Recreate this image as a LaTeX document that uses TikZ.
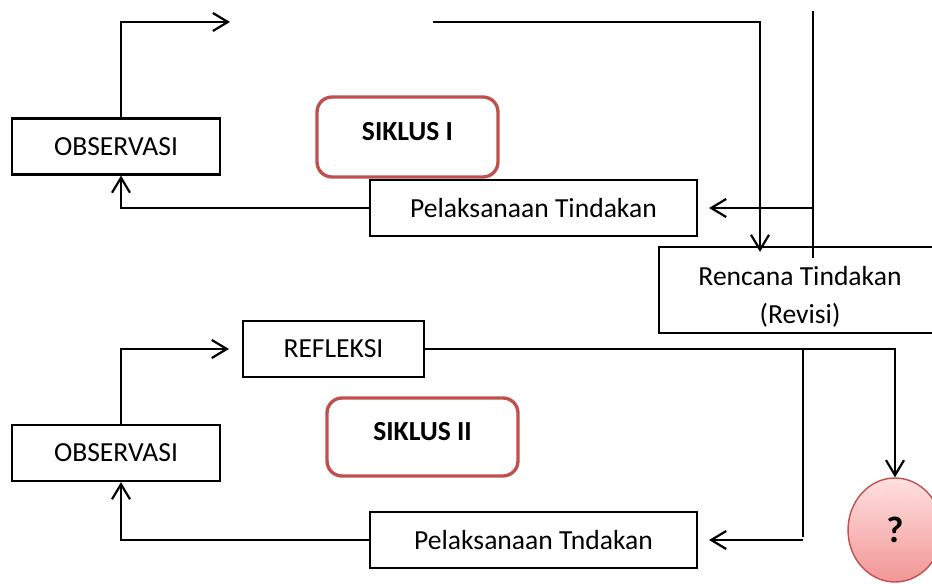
\documentclass[tikz,border=0pt]{standalone}
\usepackage{fontspec}
\setmainfont{Carlito}
\usetikzlibrary{arrows.meta,positioning,shapes.geometric}

\definecolor{merah}{RGB}{192,80,77}
\definecolor{pinkatas}{RGB}{255,224,224}
\definecolor{pinkbawah}{RGB}{242,150,150}

\begin{document}
\begin{tikzpicture}[x=0.02cm, y=-0.02cm, >={Straight Barb[length=0.3cm,width=0.36cm]}, line width=1.25pt]
        % Gaya
        \tikzstyle{kotak} = [draw, rectangle, line width=1.25pt, minimum height=1.12cm, inner sep=0pt, align=center, font=\fontsize{15.7}{22}\selectfont]
        \tikzstyle{siklus} = [draw=merah, rectangle, rounded corners=0.3cm, line width=1.9pt, text depth=0.22cm, font=\fontsize{15.7}{22}\selectfont\bfseries]
        \tikzstyle{tanya} = [draw=merah, ellipse, line width=0.8pt, inner sep=0pt, top color=pinkatas, bottom color=pinkbawah, minimum width=1.88cm, minimum height=2.08cm, font=\fontsize{21}{24}\selectfont\bfseries]

        \useasboundingbox (0,0) rectangle (932,584);

        % --- Siklus I ---
        \node [kotak, minimum width=4.16cm] (obs1) at (116,146.5) {OBSERVASI};
        \node [siklus, minimum width=3.62cm, minimum height=1.6cm] (siklus1) at (407.5,137) {SIKLUS I};
        \node [kotak, minimum width=6.54cm] (pel1) at (533.5,208) {Pelaksanaan Tindakan};

        % Rencana revisi
        \node [kotak, minimum width=5.8cm, minimum height=1.72cm] (ren) at (804,290) {};
        \node [align=center, font=\fontsize{15.7}{22}\selectfont] (rentext) at (800,297) {Rencana Tindakan\\(Revisi)};

        % --- Siklus II ---
        \node [kotak, minimum width=3.62cm] (ref) at (333.5,349) {REFLEKSI};
        \node [kotak, minimum width=4.16cm] (obs2) at (116,453) {OBSERVASI};
        \node [siklus, minimum width=3.82cm, minimum height=1.56cm] (siklus2) at (422.5,437) {SIKLUS II};
        \node [kotak, minimum width=6.54cm] (pel2) at (533.5,540) {Pelaksanaan Tndakan};

        % Tanda tanya
        \node [tanya] (tanya) at (895,530) {?};

        % --- Titik bantu ---
        \coordinate (ref1) at (230,22);
        \coordinate (ref1kanan) at (433,22);
        \coordinate (atas) at (813,11);
        \coordinate (bawah) at (813,258);
        \coordinate (cabang) at (803,537);

        % --- Panah Siklus I ---
        \draw [->] ([xshift=0.1cm]obs1.north) |- (ref1);
        \draw [->] (ref1kanan) -| ([xshift=-0.88cm, yshift=-0.12cm]ren.north);
        \draw (atas) -- (bawah);
        \draw [->, shorten >=0.22cm] (atas |- pel1.east) -- (pel1.east);
        \draw [->] (pel1.west) -| ([xshift=0.1cm]obs1.south);

        % --- Panah Siklus II ---
        \draw [->, shorten >=0.26cm] ([xshift=0.1cm]obs2.north) |- (ref.west);
        \draw [->] (ref.east) -| (tanya.north);
        \draw (ref.east -| cabang) -- (cabang);
        \draw [->, shorten >=0.22cm] (cabang |- pel2.east) -- (pel2.east);
        \draw [->] (pel2.west) -| ([xshift=0.1cm]obs2.south);

\end{tikzpicture}
\end{document}
